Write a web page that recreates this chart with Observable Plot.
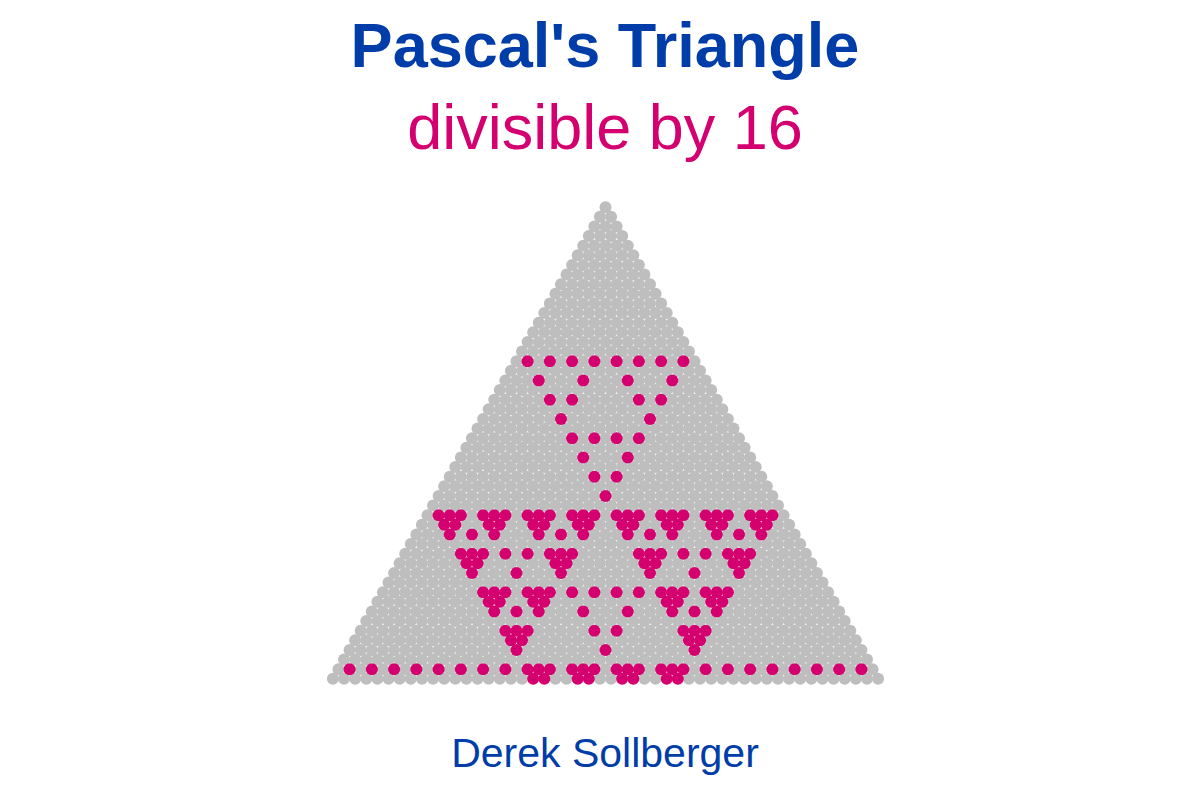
<!DOCTYPE html>
<html>
<head>
<meta charset="utf-8">
<script src="https://cdn.jsdelivr.net/npm/d3@7"></script>
<script src="https://cdn.jsdelivr.net/npm/@observablehq/plot@0.6"></script>
<style>
  body { margin: 0; background: #ffffff; font-family: "Liberation Sans", Arial, sans-serif; }
  #page { position: relative; width: 1200px; height: 800px; overflow: hidden; }
  .txt { position: absolute; left: 0; width: 1200px; text-align: center; line-height: 1; white-space: nowrap; }
  #title { top: 14px; left: 5px; font-size: 63px; font-weight: bold; color: #003DA8; }
  #subtitle { top: 96px; left: 5px; font-size: 63px; color: #D5006F; }
  #caption { top: 733px; left: 5px; font-size: 41px; color: #003DA8; }
  #chart { position: absolute; left: 0; top: 190px; }
</style>
</head>
<body>
<div id="page">
  <div id="title" class="txt">Pascal's Triangle</div>
  <div id="subtitle" class="txt">divisible by 16</div>
  <div id="chart"></div>
  <div id="caption" class="txt">Derek Sollberger</div>
</div>
<script>
  // rows of the triangle shown (0..49) and the divisor from the subtitle
  const rowNumbers = d3.range(0, 50);
  const divisor = 16;
  const colors = { divisible: "#D5006F", other: "#BEBEBE" };

  // binomial coefficients mod divisor, built row by row with Pascal's rule
  const cells = [];
  let prev = [];
  rowNumbers.forEach(n => {
    const row = [];
    for (let k = 0; k <= n; k++) {
      row[k] = (k === 0 || k === n) ? 1 : (prev[k - 1] + prev[k]) % divisor;
      cells.push({ n: n, k: k, pos: k - n / 2, divisible: row[k] === 0 });
    }
    prev = row;
  });

  const chart = Plot.plot({
    width: 1200,
    height: 520,
    x: { domain: [-24.5, 24.5], range: [332.4, 877.6], axis: null },
    y: { domain: [0, 49], range: [16.7, 488.3], axis: null },
    marks: [
      Plot.dot(cells.filter(d => !d.divisible), {
        x: "pos", y: "n", r: 6, fill: colors.other, stroke: "none"
      }),
      Plot.dot(cells.filter(d => d.divisible), {
        x: "pos", y: "n", r: 6, fill: colors.divisible, stroke: "none"
      })
    ],
    style: { backgroundColor: "transparent" }
  });

  d3.select('#chart').append(() => chart);
</script>
</body>
</html>
